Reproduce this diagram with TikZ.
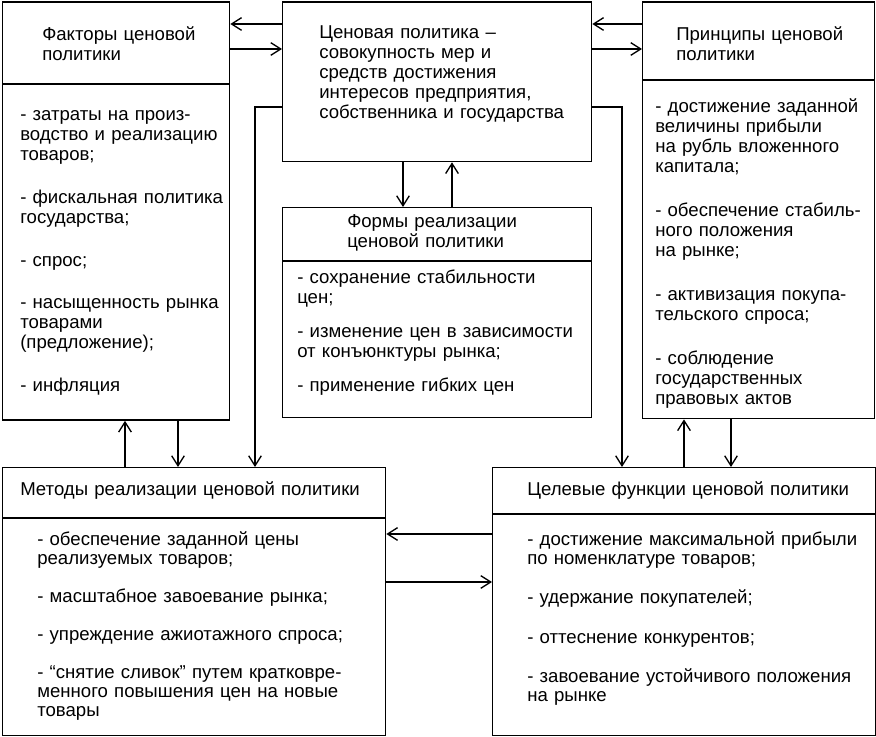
\documentclass[tikz,border=0pt]{standalone}
\usepackage{fontspec}
\setmainfont{Liberation Sans}
\usetikzlibrary{arrows.meta,calc}
\tikzset{
  box/.style={draw, line width=1pt, rectangle, inner sep=0pt, anchor=north west},
  divider/.style={line width=1pt},
  arr/.style={line width=1pt, -{Straight Barb[length=7.5pt,width=9.5pt,line width=1pt]}},
  txt/.style={anchor=base west, inner sep=0pt, align=left,
    font=\fontsize{13.95pt}{15pt}\selectfont},
  txtb/.style={txt, font=\fontsize{13.95pt}{14.4pt}\selectfont},
}
\begin{document}
\begin{tikzpicture}[x=0.75pt,y=-0.75pt]
\useasboundingbox (0,0) rectangle (876,737);
% boxes
\node[box, minimum width=170.25pt, minimum height=313.5pt] (fact) at (2,1.5) {};
\node[box, minimum width=231.75pt, minimum height=119.6pt] (pol) at (282,1.5) {};
\node[box, minimum width=174pt, minimum height=312.4pt] (prin) at (642,1.5) {};
\node[box, minimum width=231.75pt, minimum height=157.5pt] (form) at (282,207) {};
\node[box, minimum width=287.25pt, minimum height=201pt] (meth) at (2,467) {};
\node[box, minimum width=287.25pt, minimum height=201pt] (goal) at (492,467) {};
% divider levels
\coordinate (dF) at (0,84);
\coordinate (dP) at (0,80);
\coordinate (dR) at (0,261);
\coordinate (dM) at (0,518);
\coordinate (dG) at (0,514);
\draw[divider] (fact.west |- dF) -- (fact.east |- dF);
\draw[divider] (prin.west |- dP) -- (prin.east |- dP);
\draw[divider] (form.west |- dR) -- (form.east |- dR);
\draw[divider] (meth.west |- dM) -- (meth.east |- dM);
\draw[divider] (goal.west |- dG) -- (goal.east |- dG);
% texts
\node[txt, text width=138pt] (factH) at (42,40.5) {Факторы ценовой\\политики};
\node[txt, text width=156pt] (factB) at (20,121) {- затраты на произ-\\водство и реализацию\\товаров;\\[17pt]- фискальная политика\\государства;\\[17pt]- спрос;\\[17pt]- насыщенность рынка\\товарами\\(предложение);\\[17pt]- инфляция};
\node[txt, text width=202pt] (polT) at (319,38.5) {Ценовая политика –\\совокупность мер и\\средств достижения\\интересов предприятия,\\собственника и государства};
\node[txt, text width=147pt] (prinH) at (676,41) {Принципы ценовой\\политики};
\node[txt, text width=162pt] (prinB) at (655,113) {- достижение заданной\\величины прибыли\\на рубль вложенного\\капитала;\\[18pt]- обеспечение стабиль-\\ного положения\\на рынке;\\[18pt]- активизация покупа-\\тельского спроса;\\[18pt]- соблюдение\\государственных\\правовых актов};
\node[txt, text width=180pt] (formH) at (347,228) {Формы реализации\\ценовой политики};
\node[txt, text width=219pt] (formB) at (297,284) {- сохранение стабильности\\цен;\\[10.5pt]- изменение цен в зависимости\\от конъюнктуры рынка;\\[10.5pt]- применение гибких цен};
\node[txt, text width=270pt] (methH) at (20,495.5) {Методы реализации ценовой политики};
\node[txtb, text width=259pt] (methB) at (37,545.5) {- обеспечение заданной цены\\реализуемых товаров;\\[14pt]- масштабное завоевание рынка;\\[14pt]- упреждение ажиотажного спроса;\\[14pt]- “снятие сливок” путем кратковре-\\менного повышения цен на новые\\товары};
\node[txt, text width=259pt] (goalH) at (527,495.5) {Целевые функции ценовой политики};
\node[txtb, text width=259pt] (goalB) at (527,545.5) {- достижение максимальной прибыли\\по номенклатуре товаров;\\[15pt]- удержание покупателей;\\[15pt]- оттеснение конкурентов;\\[15pt]- завоевание устойчивого положения\\на рынке};
% connector levels
\coordinate (yA) at (0,24);
\coordinate (yB) at (0,49);
\coordinate (yC) at (0,107);
\coordinate (xL) at (255,0);
\coordinate (xR) at (622,0);
\coordinate (xa) at (403,0);
\coordinate (xb) at (452,0);
\coordinate (xc) at (125,0);
\coordinate (xd) at (178,0);
\coordinate (xe) at (684,0);
\coordinate (xf) at (731,0);
\coordinate (yD) at (0,534);
\coordinate (yE) at (0,582);
% connectors
\draw[arr] (pol.west |- yA) -- (fact.east |- yA);
\draw[arr] (fact.east |- yB) -- (pol.west |- yB);
\draw[arr] (prin.west |- yA) -- (pol.east |- yA);
\draw[arr] (pol.east |- yB) -- (prin.west |- yB);
\draw[arr] (pol.west |- yC) -| (meth.north -| xL);
\draw[arr] (pol.east |- yC) -| (goal.north -| xR);
\draw[arr] (pol.south -| xa) -- (form.north -| xa);
\draw[arr] (form.north -| xb) -- (pol.south -| xb);
\draw[arr] (meth.north -| xc) -- (fact.south -| xc);
\draw[arr] (fact.south -| xd) -- (meth.north -| xd);
\draw[arr] (goal.north -| xe) -- (prin.south -| xe);
\draw[arr] (prin.south -| xf) -- (goal.north -| xf);
\draw[arr] (goal.west |- yD) -- (meth.east |- yD);
\draw[arr] (meth.east |- yE) -- (goal.west |- yE);
\end{tikzpicture}
\end{document}
